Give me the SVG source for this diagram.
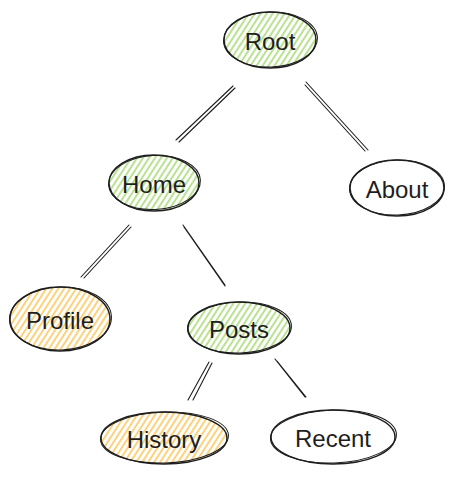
<svg xmlns="http://www.w3.org/2000/svg" width="463" height="480" viewBox="0 0 463 480">
<defs>
<pattern id="hg" width="5" height="5" patternUnits="userSpaceOnUse" patternTransform="rotate(33)"><line x1="1" y1="0" x2="1" y2="5" stroke="#a8db76" stroke-width="1.6"/></pattern>
<pattern id="ho" width="5" height="5" patternUnits="userSpaceOnUse" patternTransform="rotate(33)"><line x1="1" y1="0" x2="1" y2="5" stroke="#fcc75e" stroke-width="1.6"/></pattern>
<style>
.e{stroke:#1e1e1e;stroke-width:1.5;}
.e2{fill:none;stroke:#1e1e1e;stroke-width:1;}
.g{fill:url(#hg);}
.o{fill:url(#ho);}
.w{fill:#fff;}
.t{font-family:"Comic Sans MS","Liberation Sans",sans-serif;font-size:24px;fill:#1e1e1e;text-anchor:middle;dominant-baseline:central;}
.c{stroke:#1e1e1e;stroke-width:1.1;fill:none;stroke-linecap:round;}
</style>
</defs>
<rect width="463" height="480" fill="#fff"/>
<g id="connectors">
<path class="c" d="M233 86 L176 140 M235 88 L179 142"/>
<path class="c" d="M306 82 L368 150 M305 85 L365 151"/>
<path class="c" d="M129 225 L81 277 M131 227 L84 278"/>
<path class="c" d="M183 225 L225 285 M184 227 L225 286"/>
<path class="c" d="M209 362 L188 400 M212 363 L193 400"/>
<path class="c" d="M275 359 L305 397 M277 361 L306 397"/>
</g>
<g id="root">
<ellipse class="e g" cx="270" cy="40" rx="46" ry="28"/>
<ellipse class="e2" cx="270.5" cy="39.5" rx="47" ry="27.5" transform="rotate(-2 270 40)"/>
<text class="t" x="270" y="41">Root</text>
</g>
<g id="home">
<ellipse class="e g" cx="154" cy="183" rx="45" ry="28"/>
<ellipse class="e2" cx="154.5" cy="182.5" rx="46" ry="27" transform="rotate(-3 154 183)"/>
<text class="t" x="154" y="184">Home</text>
</g>
<g id="about">
<ellipse class="e w" cx="397" cy="188" rx="47" ry="28"/>
<ellipse class="e2" cx="397" cy="187.5" rx="47.5" ry="27.5" transform="rotate(-2 397 188)"/>
<text class="t" x="397" y="189">About</text>
</g>
<g id="profile">
<ellipse class="e o" cx="60" cy="319" rx="50" ry="32"/>
<ellipse class="e2" cx="60.5" cy="318.5" rx="51" ry="31.5" transform="rotate(-2 60 319)"/>
<text class="t" x="60" y="320">Profile</text>
</g>
<g id="posts">
<ellipse class="e g" cx="239" cy="328" rx="51" ry="26"/>
<ellipse class="e2" cx="239.5" cy="327.5" rx="52" ry="25.5" transform="rotate(-2 239 328)"/>
<text class="t" x="239" y="329">Posts</text>
</g>
<g id="history">
<ellipse class="e o" cx="164" cy="438" rx="63" ry="26"/>
<ellipse class="e2" cx="164.5" cy="437.5" rx="64" ry="25.5" transform="rotate(-2 164 438)"/>
<text class="t" x="164" y="439">History</text>
</g>
<g id="recent">
<ellipse class="e w" cx="333" cy="437" rx="62" ry="27"/>
<ellipse class="e2" cx="333.5" cy="436.5" rx="63" ry="26.5" transform="rotate(-2 333 437)"/>
<text class="t" x="333" y="438">Recent</text>
</g>
</svg>
